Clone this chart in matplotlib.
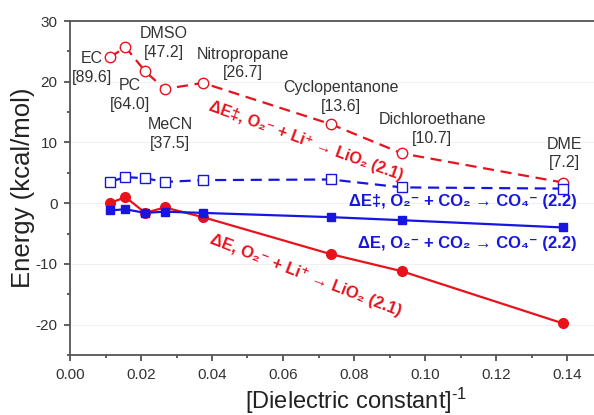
import numpy as np
import matplotlib
matplotlib.use("Agg")
import matplotlib.pyplot as plt
from matplotlib.ticker import MultipleLocator

plt.rcParams['font.family'] = ['Liberation Sans', 'DejaVu Sans']
plt.rcParams['mathtext.fontset'] = 'custom'
plt.rcParams['mathtext.rm'] = 'Liberation Sans'
plt.rcParams['mathtext.default'] = 'regular'
plt.rcParams['axes.unicode_minus'] = False

# solvents and their dielectric constants
solvents = ['EC', 'PC', 'DMSO', 'MeCN', 'Nitropropane', 'Cyclopentanone', 'Dichloroethane', 'DME']
eps = np.array([89.6, 64.0, 47.2, 37.5, 26.7, 13.6, 10.7, 7.2])
inv_eps = 1.0 / eps

# energies in kcal/mol
ts_li = [24.0, 25.7, 21.7, 18.8, 19.8, 13.0, 8.2, 3.4]      # dE(TS), O2- + Li+
ts_co2 = [3.5, 4.3, 4.1, 3.5, 3.8, 3.9, 2.6, 2.4]          # dE(TS), O2- + CO2
de_li = [0.0, 1.0, -1.6, -0.7, -2.3, -8.4, -11.2, -19.8]   # dE, O2- + Li+
de_co2 = [-1.2, -1.0, -1.6, -1.4, -1.6, -2.3, -2.8, -4.0]  # dE, O2- + CO2

red = '#e8121c'
blue = '#1616e0'
txt = '#333333'

fig = plt.figure(figsize=(5.94, 4.15), dpi=100)
ax = fig.add_axes([70 / 594, 60 / 415, 532.5 / 594, 334 / 415])

ax.plot(inv_eps, ts_li, color=red, lw=1.6, ls=(0, (5, 3)), marker='o', ms=7.5,
        mfc='white', mec=red, mew=1.0, zorder=3)
ax.plot(inv_eps, ts_co2, color=blue, lw=1.6, ls=(0, (5, 3)), marker='s', ms=6.5,
        mfc='white', mec=blue, mew=1.0, zorder=3)
ax.plot(inv_eps, de_li, color=red, lw=1.6, marker='o', ms=7, mfc=red, mec=red, zorder=4)
ax.plot(inv_eps, de_co2, color=blue, lw=1.6, marker='s', ms=6, mfc=blue, mec=blue, zorder=5)

# solvent labels (x, y) in data coords
label_pos = [(0.0062, 22.3), (0.0169, 17.8), (0.0265, 26.4), (0.0282, 11.4),
             (0.0487, 23.0), (0.0763, 17.5), (0.1020, 12.2), (0.1394, 8.2)]
for name, e, (lx, ly) in zip(solvents, eps, label_pos):
    ax.text(lx, ly, '%s\n[%.1f]' % (name, e), ha='center', va='center',
            fontsize=11.5, color=txt, linespacing=1.3)

ax.text(0.0665, 10.2, 'ΔE‡, O₂⁻ + Li⁺ → LiO₂ (2.1)', color=red, fontsize=11.5,
        fontweight='bold', rotation=-20, ha='center', va='center')
ax.text(0.0665, -11.9, 'ΔE, O₂⁻ + Li⁺ → LiO₂ (2.1)', color=red, fontsize=12,
        fontweight='bold', rotation=-21, ha='center', va='center')
ax.text(0.1428, 0.2, 'ΔE‡, O₂⁻ + CO₂ → CO₄⁻ (2.2)', color=blue, fontsize=12,
        fontweight='bold', ha='right', va='center')
ax.text(0.1428, -6.6, 'ΔE, O₂⁻ + CO₂ → CO₄⁻ (2.2)', color=blue, fontsize=12,
        fontweight='bold', ha='right', va='center')

ax.set_xlim(0, 0.15)
ax.set_ylim(-25, 30)
ax.xaxis.set_major_locator(MultipleLocator(0.02))
ax.xaxis.set_minor_locator(MultipleLocator(0.01))
ax.yaxis.set_major_locator(MultipleLocator(10))
ax.yaxis.set_minor_locator(MultipleLocator(5))
ax.set_xticks(np.arange(0, 0.141, 0.02))
ax.xaxis.set_major_formatter(plt.FormatStrFormatter('%.2f'))
ax.tick_params(which='major', direction='out', length=4, width=1.2, labelsize=11,
               colors='#444444', labelcolor=txt, pad=5)
ax.tick_params(which='minor', direction='out', length=2.5, width=1.2, colors='#444444')
ax.grid(axis='y', which='major', color='#f0f0f0', lw=0.8)
ax.set_axisbelow(True)
for s in ax.spines.values():
    s.set_color('#555555')
    s.set_linewidth(1.3)

ax.set_xlabel(r'[Dielectric constant]$^{\text{-1}}$', fontsize=17, color='#222222')
ax.xaxis.set_label_coords(0.537, -0.093)
ax.set_ylabel('Energy (kcal/mol)', fontsize=18.5, color='#222222')
ax.yaxis.set_label_coords(-0.066, 0.5)

fig.savefig('out.png', dpi=100)
